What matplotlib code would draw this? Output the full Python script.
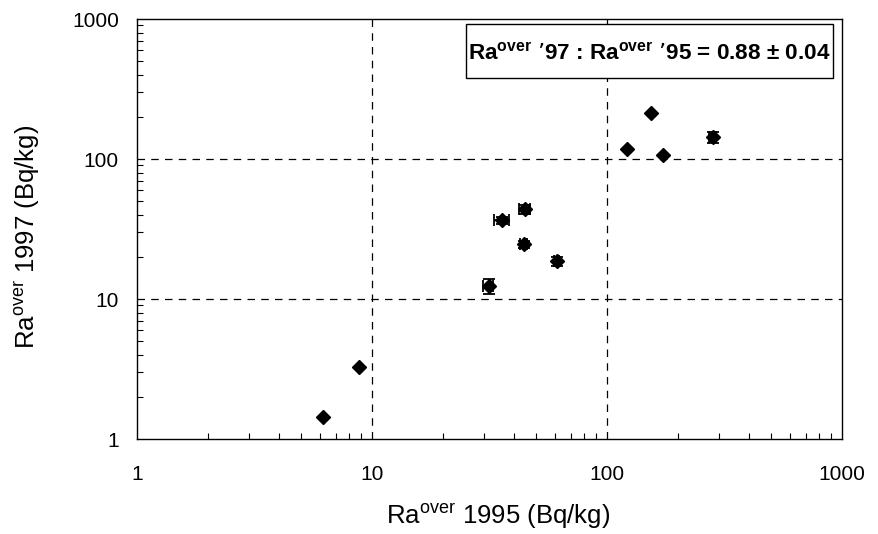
import matplotlib
matplotlib.use("Agg")
import matplotlib.pyplot as plt
from matplotlib.patches import Rectangle
from matplotlib.ticker import LogLocator, FixedLocator, FixedFormatter, NullFormatter

plt.rcParams['font.family'] = ['Liberation Sans', 'DejaVu Sans']

# Ra(over) 1995 vs 1997, Bq/kg
ra_1995 = [6.2, 8.8, 31.3, 35.6, 44.2, 44.7, 61.1, 121.7, 154, 173, 281]
ra_1997 = [1.44, 3.26, 12.4, 36.5, 24.6, 43.7, 18.6, 117.8, 212, 107, 143]
err_1995 = [0, 0, 1.5, 2.5, 1.5, 2.5, 1.5, 0, 0, 0, 10]
err_1997 = [0, 0, 1.5, 2.0, 1.5, 3.5, 1.5, 0, 0, 0, 12]

tick_vals = [1, 10, 100, 1000]
tick_labels = ['1', '10', '100', '1000']
ratio_text = "Ra$^{\\mathregular{over}}$ \u201997 : Ra$^{\\mathregular{over}}$ \u201995 = 0.88 \u00b1 0.04"

fig = plt.figure(figsize=(8.79, 5.34), dpi=100)
ax = fig.add_axes([0.1559, 0.1779, 0.8021, 0.7865])

ax.set_xscale('log')
ax.set_yscale('log')
ax.set_xlim(1, 1000)
ax.set_ylim(1, 1000)

ax.errorbar(ra_1995, ra_1997, xerr=err_1995, yerr=err_1997, fmt='D',
            color='black', markersize=7, elinewidth=1.3, capsize=4.5,
            capthick=1.3, zorder=3)

# dashed grid at the inner decades only
for v in [10, 100]:
    ax.axvline(v, color='black', linestyle=(0, (6, 5)), linewidth=0.9, zorder=1)
    ax.axhline(v, color='black', linestyle=(0, (6, 5)), linewidth=0.9, zorder=1)

ax.xaxis.set_major_locator(FixedLocator(tick_vals))
ax.xaxis.set_major_formatter(FixedFormatter(tick_labels))
ax.yaxis.set_major_locator(FixedLocator(tick_vals))
ax.yaxis.set_major_formatter(FixedFormatter(tick_labels))
ax.xaxis.set_minor_locator(LogLocator(base=10, subs=range(2, 10)))
ax.yaxis.set_minor_locator(LogLocator(base=10, subs=range(2, 10)))
ax.xaxis.set_minor_formatter(NullFormatter())
ax.yaxis.set_minor_formatter(NullFormatter())

ax.tick_params(axis='x', which='major', direction='in', length=0, pad=19, labelsize=15)
ax.tick_params(axis='y', which='major', direction='in', length=0, pad=13, labelsize=15)
ax.tick_params(which='minor', direction='in', length=4, width=0.8)

for s in ax.spines.values():
    s.set_linewidth(1.0)
    s.set_color('black')

fig.text(0.5666, 0.033, "Ra$^{\\mathregular{over}}$ 1995 (Bq/kg)", fontsize=18.5,
         ha='center', va='center')
fig.text(0.031, 0.556, "Ra$^{\\mathregular{over}}$ 1997 (Bq/kg)", fontsize=18.5,
         ha='center', va='center', rotation=90)

# ratio box
ax.add_patch(Rectangle((0.466, 0.860), 0.521, 0.128, transform=ax.transAxes,
                       facecolor='white', edgecolor='black', linewidth=1.0, zorder=5))
ax.text(0.7266, 0.902, ratio_text, transform=ax.transAxes, ha='center', va='baseline',
        fontsize=16.2, fontweight='bold', zorder=6)

fig.savefig('out.png', dpi=100)
